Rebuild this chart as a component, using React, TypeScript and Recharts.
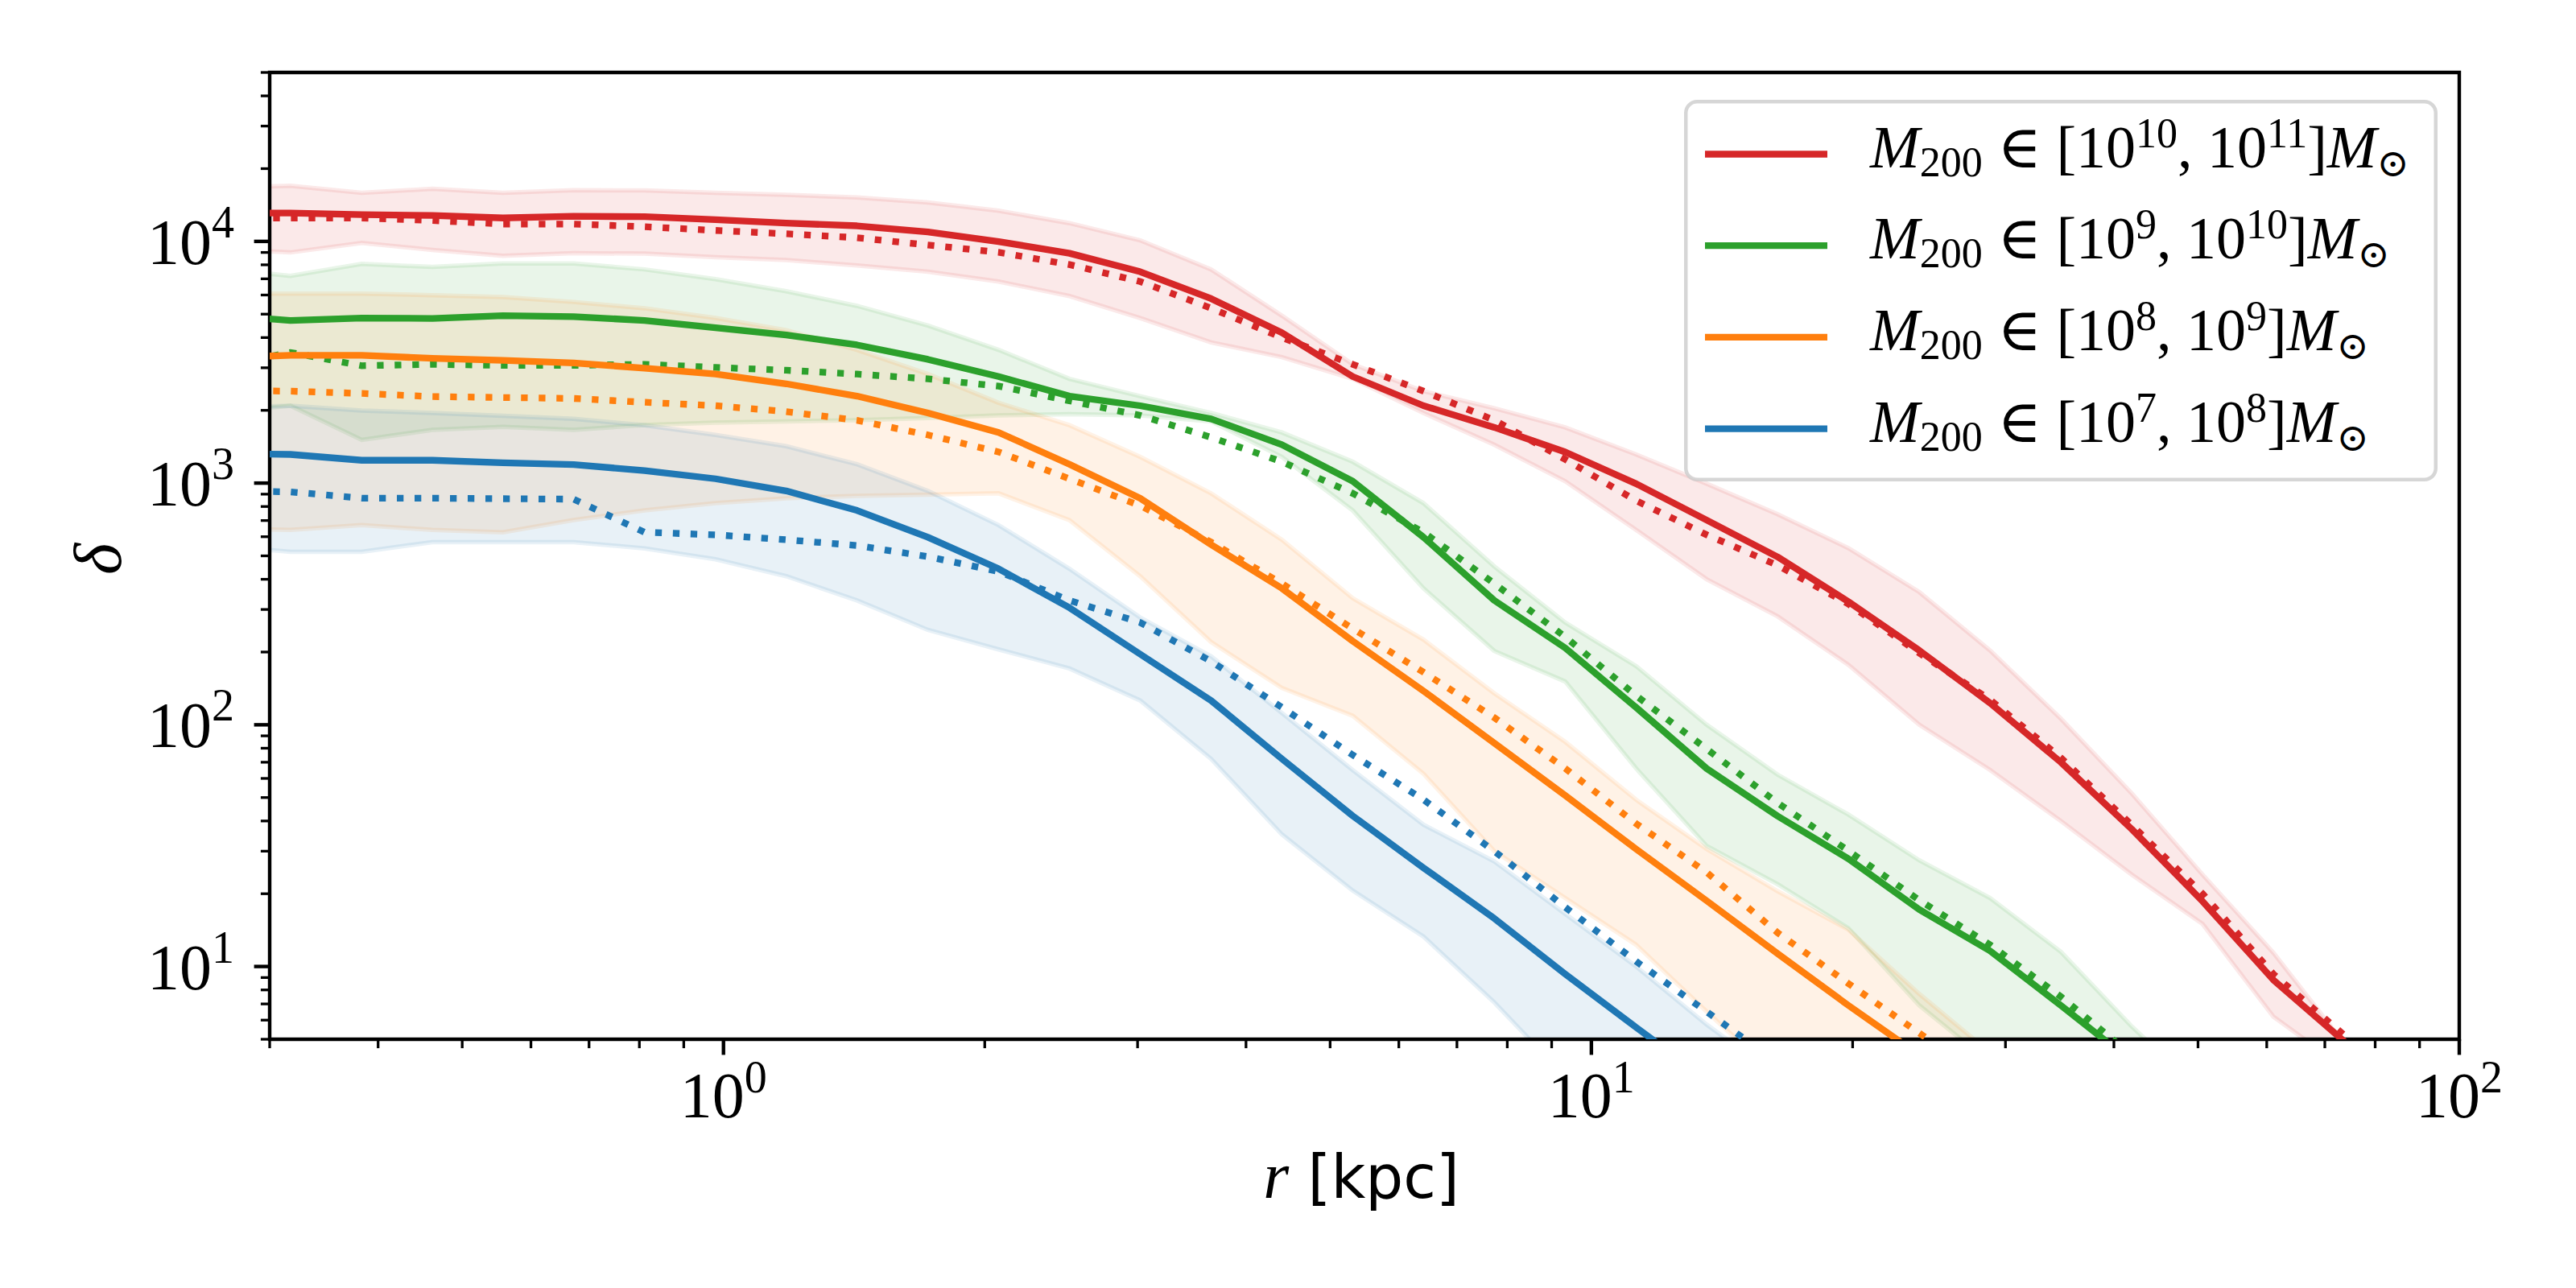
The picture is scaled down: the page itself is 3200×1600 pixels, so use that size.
import React from 'react';
import { ComposedChart, Line, Area, XAxis, YAxis, ReferenceArea, Legend } from 'recharts';

// radial bins [kpc]
const rKpc = [0.263, 0.317, 0.383, 0.462, 0.557, 0.672, 0.811, 0.979, 1.181, 1.425, 1.72, 2.075, 2.504, 3.021, 3.646, 4.399, 5.309, 6.406, 7.73, 9.329, 11.26, 13.58, 16.39, 19.78, 23.87, 28.8, 34.75, 41.94, 50.61, 61.07, 73.7, 88.92];

// M200 in [1e10, 1e11]
const redMean = [13100, 13100, 12900, 12800, 12500, 12700, 12650, 12300, 11900, 11600, 10950, 9980, 8930, 7490, 5800, 4190, 2760, 2090, 1700, 1345, 994, 703, 495, 323, 203, 123, 70, 37, 18.6, 8.8, 4.9, 2.7];
const redMedian = [12500, 12500, 12500, 12200, 11800, 11800, 11500, 11100, 10750, 10360, 9660, 9010, 8020, 6820, 5290, 4000, 3100, 2400, 1820, 1254, 846, 611, 457, 316, 198, 127, 73, 38.5, 20, 9.3, 5.2, 2.8];
const redHi = [16600, 17000, 15900, 16500, 15900, 16300, 16250, 15900, 15600, 15200, 14500, 13400, 11900, 10100, 7660, 4930, 3100, 2400, 2040, 1700, 1314, 994, 744, 538, 354, 203, 106, 52, 24, 11.4, 4.8, 2.2];
const redLo = [9300, 9000, 9850, 9220, 8720, 8930, 8900, 8600, 8370, 7950, 7490, 6820, 5940, 4820, 3820, 3320, 2700, 1950, 1440, 1018, 640, 400, 281, 177, 100, 65, 40, 24, 15, 6.2, 3.8, 2.0];

// M200 in [1e9, 1e10]
const greenMean = [4950, 4710, 4820, 4800, 4930, 4880, 4710, 4390, 4100, 3730, 3250, 2760, 2290, 2090, 1844, 1442, 1018, 597, 327, 208, 118, 65.9, 41.9, 27.9, 17.2, 11.6, 6.9, 4.05, null, null, null, null];
const greenMedian = [3050, 3470, 3060, 3100, 3070, 3070, 3100, 3010, 2930, 2825, 2700, 2520, 2190, 1905, 1546, 1226, 907, 626, 384, 231, 132, 79.4, 47.5, 30.1, 18.8, 12.3, 7.5, 4.3, null, null, null, null];
const greenHi = [7700, 7200, 8070, 7840, 8100, 8100, 7660, 6980, 6220, 5410, 4490, 3560, 2700, 2290, 1950, 1620, 1226, 826, 452, 265, 175, 100, 62.2, 42.5, 27.5, 19.2, 11.5, 5.65, 3.0, null, null, null];
const greenLo = [1960, 2090, 1510, 1660, 1710, 1660, 1740, 1780, 1800, 1820, 1860, 1905, 1930, 1905, 1800, 1284, 771, 367, 202, 151, 66, 31.5, 21.9, 14.4, 6.9, 4.0, 2.0, 1.5, 1.2, null, null, null];

// M200 in [1e8, 1e9]
const orangeMean = [3300, 3380, 3380, 3280, 3220, 3140, 2990, 2825, 2575, 2290, 1950, 1620, 1197, 865, 557, 367, 222, 138, 84, 51, 30.6, 18.7, 11.3, 6.9, 4.3, null, null, null, null, null, null, null];
const orangeMedian = [2420, 2400, 2350, 2280, 2260, 2240, 2160, 2090, 1976, 1818, 1582, 1345, 1042, 807, 570, 384, 250, 165, 107, 66, 39, 24.5, 13.8, 8.5, 5.3, 3.3, null, null, null, null, null, null];
const orangeHi = [6100, 6075, 6075, 5990, 5880, 5615, 5290, 4820, 4290, 3560, 2825, 2150, 1736, 1284, 907, 583, 334, 225, 135, 85, 49, 30.6, 20.5, 14.2, 7.7, 4.4, null, null, null, null, null, null];
const orangeLo = [650, 640, 670, 640, 626, 703, 771, 826, 865, 886, 895, 907, 703, 412, 220, 142, 109, 62.7, 30, 19.2, 12.3, 6.5, 3.5, 2.0, 1.5, 1.2, null, null, null, null, null, null];

// M200 in [1e7, 1e8]
const blueMean = [1330, 1314, 1243, 1243, 1214, 1192, 1127, 1042, 928, 771, 597, 442, 305, 196, 126, 72.3, 42, 25.6, 15.8, 9.3, 5.6, 3.4, null, null, null, null, null, null, null, null, null, null];
const blueMedian = [930, 920, 866, 866, 862, 858, 626, 611, 583, 552, 496, 431, 327, 265, 183, 118, 75, 49, 30, 17.6, 10.5, 6.5, 4.0, null, null, null, null, null, null, null, null, null];
const blueHi = [2050, 2090, 1995, 1950, 1900, 1844, 1736, 1582, 1421, 1197, 928, 670, 442, 278, 192, 112, 65, 38.6, 27.2, 16.5, 10, 5.75, 3.5, null, null, null, null, null, null, null, null, null];
const blueLo = [550, 520, 520, 570, 570, 570, 537, 484, 412, 327, 247, 205, 171, 126, 72.3, 35.2, 20.6, 13.3, 7.1, 3.5, 2.0, 1.5, 1.2, null, null, null, null, null, null, null, null, null];

// legend exponents
const massLowExp = ['10', '9', '8', '7'];
const massHighExp = ['11', '10', '9', '8'];

// axes
const xTicks = [0.3, 0.4, 0.5, 0.6, 0.7, 0.8, 0.9, 1, 2, 3, 4, 5, 6, 7, 8, 9, 10, 20, 30, 40, 50, 60, 70, 80, 90, 100];
const xMajorTicks = [1, 10, 100];
const xMajorExp = ['0', '1', '2'];
const yTicks = [5, 6, 7, 8, 9, 10, 20, 30, 40, 50, 60, 70, 80, 90, 100, 200, 300, 400, 500, 600, 700, 800, 900, 1000, 2000, 3000, 4000, 5000, 6000, 7000, 8000, 9000, 10000, 20000, 30000, 40000, 50000];
const yMajorTicks = [10, 100, 1000, 10000];
const yMajorExp = ['1', '2', '3', '4'];

const COLORS = ['#d62728', '#2ca02c', '#ff7f0e', '#1f77b4'];
const groups = [
  { key: 'red', mean: redMean, med: redMedian, lo: redLo, hi: redHi },
  { key: 'green', mean: greenMean, med: greenMedian, lo: greenLo, hi: greenHi },
  { key: 'orange', mean: orangeMean, med: orangeMedian, lo: orangeLo, hi: orangeHi },
  { key: 'blue', mean: blueMean, med: blueMedian, lo: blueLo, hi: blueHi },
];

const rows = rKpc.map((r, i) => {
  const row: any = { r };
  groups.forEach((g) => {
    row[g.key + 'Mean'] = g.mean[i];
    row[g.key + 'Med'] = g.med[i];
    row[g.key + 'Band'] = g.lo[i] != null && g.hi[i] != null ? [g.lo[i], g.hi[i]] : null;
  });
  return row;
});

const MATH_FONT = "'Liberation Serif', 'DejaVu Serif', serif";
const SANS_FONT = "'DejaVu Sans', sans-serif";
const LW = 8.3;

const XTick = (props: any) => {
  const { x, y, payload } = props;
  const idx = xMajorTicks.indexOf(payload.value);
  const major = idx >= 0;
  return (
    <g>
      <line x1={x} x2={x} y1={y} y2={y + (major ? 19.4 : 11.1)} stroke="#000" strokeWidth={major ? 4.4 : 3.3} />
      {major && (
        <text x={x} y={y + 97} textAnchor="middle" fontFamily={MATH_FONT} fontSize={80} fill="#000">
          10<tspan dy={-31} fontSize={56}>{xMajorExp[idx]}</tspan>
        </text>
      )}
    </g>
  );
};

const YTick = (props: any) => {
  const { x, y, payload } = props;
  const idx = yMajorTicks.indexOf(payload.value);
  const major = idx >= 0;
  return (
    <g>
      <line x1={x - (major ? 19.4 : 11.1)} x2={x} y1={y} y2={y} stroke="#000" strokeWidth={major ? 4.4 : 3.3} />
      {major && (
        <text x={x - 44} y={y + 28} textAnchor="end" fontFamily={MATH_FONT} fontSize={80} fill="#000">
          10<tspan dy={-33} fontSize={56}>{yMajorExp[idx]}</tspan>
        </text>
      )}
    </g>
  );
};

const XLabel = (props: any) => {
  const vb = props.viewBox || {};
  const cx = vb.x + vb.width / 2 - 4;
  const y = vb.y + 197;
  return (
    <text x={cx} y={y} textAnchor="middle" fill="#000">
      <tspan fontFamily={MATH_FONT} fontStyle="italic" fontSize={82}>r</tspan>
      <tspan fontFamily={SANS_FONT} fontSize={74}> [kpc]</tspan>
    </text>
  );
};

const YLabel = (props: any) => {
  const vb = props.viewBox || {};
  const x = vb.x + 142;
  const y = vb.y + vb.height / 2 + 4;
  return (
    <text x={x} y={y} transform={`rotate(-90, ${x}, ${y})`} textAnchor="middle" fontFamily={MATH_FONT} fontStyle="italic" fontSize={84} fill="#000">
      δ
    </text>
  );
};

const LegendBox = () => {
  const W = 936;
  const H = 474;
  return (
    <svg width={W} height={H} style={{ display: 'block', overflow: 'visible' }}>
      <rect x={2.25} y={2.25} width={W - 4.5} height={H - 4.5} rx={14} ry={14} fill="#ffffff" fillOpacity={0.8} stroke="#cccccc" strokeOpacity={0.8} strokeWidth={4.5} />
      {COLORS.map((c, i) => {
        const cy = 67.5 + i * 113.7;
        return (
          <g key={i}>
            <line x1={26} x2={178} y1={cy} y2={cy} stroke={c} strokeWidth={LW} />
            <text x={231} y={cy + 16} fontFamily={MATH_FONT} fontSize={74} fill="#000">
              <tspan fontStyle="italic">M</tspan>
              <tspan fontSize={52} dy={11}>200</tspan>
              <tspan dy={-11}>{' \u2208 [10'}</tspan>
              <tspan fontSize={52} dy={-25}>{massLowExp[i]}</tspan>
              <tspan dy={25}>{', 10'}</tspan>
              <tspan fontSize={52} dy={-25}>{massHighExp[i]}</tspan>
              <tspan dy={25}>]</tspan>
              <tspan fontStyle="italic">M</tspan>
              <tspan fontSize={48} dy={11}>{'\u2299'}</tspan>
            </text>
          </g>
        );
      })}
    </svg>
  );
};

export default function App() {
  const series: any[] = [];
  groups.forEach((g, i) => {
    const c = COLORS[i];
    series.push(
      <Area
        key={g.key + 'Band'}
        dataKey={g.key + 'Band'}
        type="linear"
        fill={c}
        fillOpacity={0.1}
        stroke={c}
        strokeOpacity={0.1}
        strokeWidth={5.5}
        dot={false}
        activeDot={false}
        legendType="none"
        isAnimationActive={false}
      />
    );
    series.push(
      <Line
        key={g.key + 'Mean'}
        dataKey={g.key + 'Mean'}
        type="linear"
        stroke={c}
        strokeWidth={LW}
        strokeLinejoin="round"
        dot={false}
        activeDot={false}
        legendType="none"
        isAnimationActive={false}
      />
    );
    series.push(
      <Line
        key={g.key + 'Med'}
        dataKey={g.key + 'Med'}
        type="linear"
        stroke={c}
        strokeWidth={LW}
        strokeDasharray="8.3 13.7"
        strokeLinecap="butt"
        dot={false}
        activeDot={false}
        legendType="none"
        isAnimationActive={false}
      />
    );
  });

  return (
    <ComposedChart width={3184} height={1584} data={rows} margin={{ top: 82, right: 137, bottom: 0, left: 0 }}>
      <XAxis
        dataKey="r"
        type="number"
        scale="log"
        domain={[0.3, 100]}
        allowDataOverflow
        ticks={xTicks}
        interval={0}
        tick={<XTick />}
        tickLine={false}
        axisLine={false}
        tickSize={0}
        tickMargin={0}
        height={301}
        label={<XLabel />}
      />
      <YAxis
        type="number"
        scale="log"
        domain={[5, 50000]}
        allowDataOverflow
        ticks={yTicks}
        interval={0}
        tick={<YTick />}
        tickLine={false}
        axisLine={false}
        tickSize={0}
        tickMargin={0}
        width={327}
        label={<YLabel />}
      />
      {series}
      <ReferenceArea x1={0.3} x2={100} y1={5} y2={50000} fill="none" stroke="#000" strokeWidth={4.4} ifOverflow="visible" />
      <Legend
        layout="vertical"
        align="center"
        verticalAlign="middle"
        wrapperStyle={{ left: 2084, top: 116, width: 936, height: 474 }}
        content={() => <LegendBox />}
      />
    </ComposedChart>
  );
}
